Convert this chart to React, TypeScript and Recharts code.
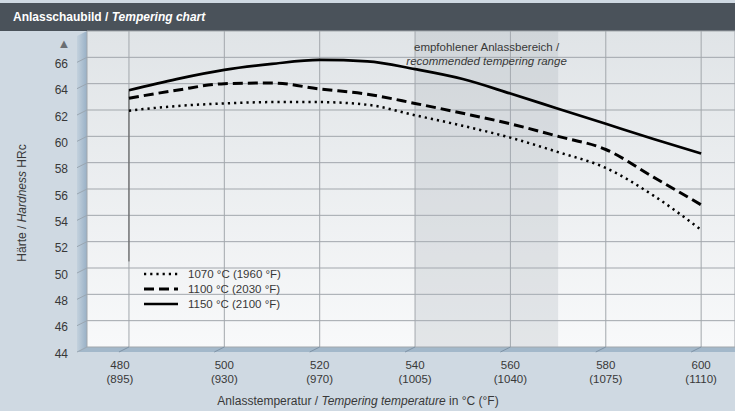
import React from "react";
import { LineChart, Line, XAxis, YAxis, CartesianGrid, ReferenceArea, ReferenceLine, Label } from "recharts";

// tempering temperature in °C, hardness HRc per hardening temperature
const temps = [480, 490, 500, 510, 520, 530, 540, 550, 560, 570, 580, 590, 600];
const hrc1070 = [61.95, 62.3, 62.5, 62.6, 62.6, 62.4, 61.6, 60.8, 59.9, 58.8, 57.6, 55.5, 52.9];
const hrc1100 = [62.9, 63.5, 64.0, 64.05, 63.6, 63.2, 62.5, 61.75, 60.95, 60.0, 59.0, 56.9, 54.8];
const hrc1150 = [63.5, 64.35, 65.05, 65.5, 65.8, 65.7, 65.1, 64.35, 63.25, 62.1, 60.95, 59.8, 58.7];

const xTicks = [480, 500, 520, 540, 560, 580, 600];
const fahrenheitLabels = ["(895)", "(930)", "(970)", "(1005)", "(1040)", "(1075)", "(1110)"];
const yTicks = [44, 46, 48, 50, 52, 54, 56, 58, 60, 62, 64, 66];
const rangeStart = 540;
const rangeEnd = 570;

const series = [
  { key: "s1070", name: "1070 °C (1960 °F)", width: 2.5, dash: "2.2 4" },
  { key: "s1100", name: "1100 °C (2030 °F)", width: 3, dash: "10 5" },
  { key: "s1150", name: "1150 °C (2100 °F)", width: 2.7, dash: undefined as string | undefined },
];

const data = temps.map((t, i) => ({ t, s1070: hrc1070[i], s1100: hrc1100[i], s1150: hrc1150[i] }));

const FONT = '"Liberation Sans", Arial, sans-serif';
const TEXT = "#383838";

const XTick = (props: any) => {
  const { x, y, payload, index } = props;
  const dx = index === 0 ? -9 : 0;
  return (
    <g>
      <line x1={x} y1={y} x2={x - 10} y2={y + 5} stroke="#7f93a6" />
      <text x={x + dx} y={y + 22} textAnchor="middle" fontSize={11.5} fill={TEXT} fontFamily={FONT}>
        {payload.value}
      </text>
      <text x={x + dx} y={y + 36} textAnchor="middle" fontSize={11.5} fill={TEXT} fontFamily={FONT}>
        {fahrenheitLabels[index]}
      </text>
    </g>
  );
};

const YTick = (props: any) => {
  const { x, y, payload } = props;
  return (
    <g>
      <line x1={x} y1={y} x2={x - 10} y2={y + 5} stroke="#9aa6b1" />
      <text x={68} y={y + 10.5} textAnchor="end" fontSize={12} fill={TEXT} fontFamily={FONT}>
        {payload.value}
      </text>
    </g>
  );
};

const renderYTitle = () => (
  <text x={26} y={203} transform="rotate(-90 26 203)" textAnchor="middle" fontSize={12} fill={TEXT} fontFamily={FONT}>
    Härte / <tspan fontStyle="italic">Hardness</tspan> HRc
  </text>
);

const renderXTitle = (p: any) => (
  <text x={p.viewBox.x + 271} y={p.viewBox.y + 58} textAnchor="middle" fontSize={12} fill={TEXT} fontFamily={FONT}>
    Anlasstemperatur / <tspan fontStyle="italic">Tempering temperature</tspan> in °C (°F)
  </text>
);

const renderRangeLabel = (p: any) => {
  const cx = p.viewBox.x + p.viewBox.width / 2;
  return (
    <g fontSize={11.5} fill={TEXT} fontFamily={FONT} textAnchor="middle">
      <text x={cx} y={51}>empfohlener Anlassbereich /</text>
      <text x={cx} y={65} fontStyle="italic">recommended tempering range</text>
    </g>
  );
};

const SeriesLegend = () => (
  <div style={{ position: "absolute", left: 143, top: 267, fontSize: 11.5, color: TEXT, fontFamily: FONT }}>
    {series.map((s) => (
      <div key={s.key} style={{ display: "flex", alignItems: "center", height: 14.7 }}>
        <svg width={36} height={6}>
          <line x1={1} x2={35} y1={3} y2={3} stroke="#000" strokeWidth={s.width} strokeDasharray={s.dash} />
        </svg>
        <span style={{ marginLeft: 9 }}>{s.name}</span>
      </div>
    ))}
  </div>
);

export default function App() {
  return (
    <div style={{ position: "absolute", left: 0, top: 0, width: 735, height: 411, fontFamily: FONT, overflow: "hidden" }}>
      <svg width={735} height={411} style={{ position: "absolute", left: 0, top: 0 }}>
        <defs>
          <linearGradient id="plotBg" x1="0" y1="0" x2="0" y2="1">
            <stop offset="0%" stopColor="#e0e4e7" />
            <stop offset="100%" stopColor="#f8f9fa" />
          </linearGradient>
          <linearGradient id="wall" x1="0" y1="0" x2="1" y2="0">
            <stop offset="0%" stopColor="#c3d1dd" />
            <stop offset="100%" stopColor="#98b0c6" />
          </linearGradient>
        </defs>
        <rect x={0} y={0} width={735} height={411} fill="#cfd9e2" />
        <rect x={87} y={31} width={648} height={316} fill="url(#plotBg)" />
        <polygon points="77,36 87,31 87,347 77,352" fill="url(#wall)" />
        <polygon points="87,347 735,347 735,352 77,352" fill="#a3b8ca" />
        <text x={64} y={48} textAnchor="middle" fontSize={13} fill="#6a6e72">▲</text>
      </svg>
      <div
        style={{
          position: "absolute", left: 0, top: 3, width: 735, height: 28, background: "#4a525a",
          color: "#fff", fontWeight: "bold", fontSize: 12, lineHeight: "28px", paddingLeft: 13, boxSizing: "border-box",
        }}
      >
        Anlasschaubild / <i>Tempering chart</i>
      </div>
      <div style={{ position: "absolute", left: 0, top: 0 }}>
        <LineChart width={735} height={411} data={data} margin={{ top: 31, right: 0, bottom: 0, left: 0 }}>
          <CartesianGrid stroke="#a2a7ac" strokeWidth={1} />
          <ReferenceArea x1={rangeStart} x2={rangeEnd} fill="#aab1b8" fillOpacity={0.27} stroke="none" label={renderRangeLabel} />
          <XAxis
            type="number" dataKey="t" domain={[471.2, 607.1]} ticks={xTicks} allowDataOverflow
            height={64} axisLine={false} tickLine={false} tickSize={0} tickMargin={0} tick={<XTick />} interval={0}
          >
            <Label content={renderXTitle} />
          </XAxis>
          <YAxis
            type="number" domain={[44, 68]} ticks={yTicks} allowDataOverflow width={87}
            axisLine={false} tickLine={false} tickSize={0} tickMargin={0} tick={<YTick />} interval={0}
          >
            <Label content={renderYTitle} />
          </YAxis>
          <ReferenceLine segment={[{ x: 480, y: 63.5 }, { x: 480, y: 50.5 }]} stroke="#555" strokeWidth={1} />
          {series.map((s) => (
            <Line
              key={s.key} dataKey={s.key} name={s.name} type="monotone" stroke="#000" strokeWidth={s.width}
              strokeDasharray={s.dash} dot={false} activeDot={false} isAnimationActive={false}
            />
          ))}
        </LineChart>
      </div>
      <SeriesLegend />
    </div>
  );
}
